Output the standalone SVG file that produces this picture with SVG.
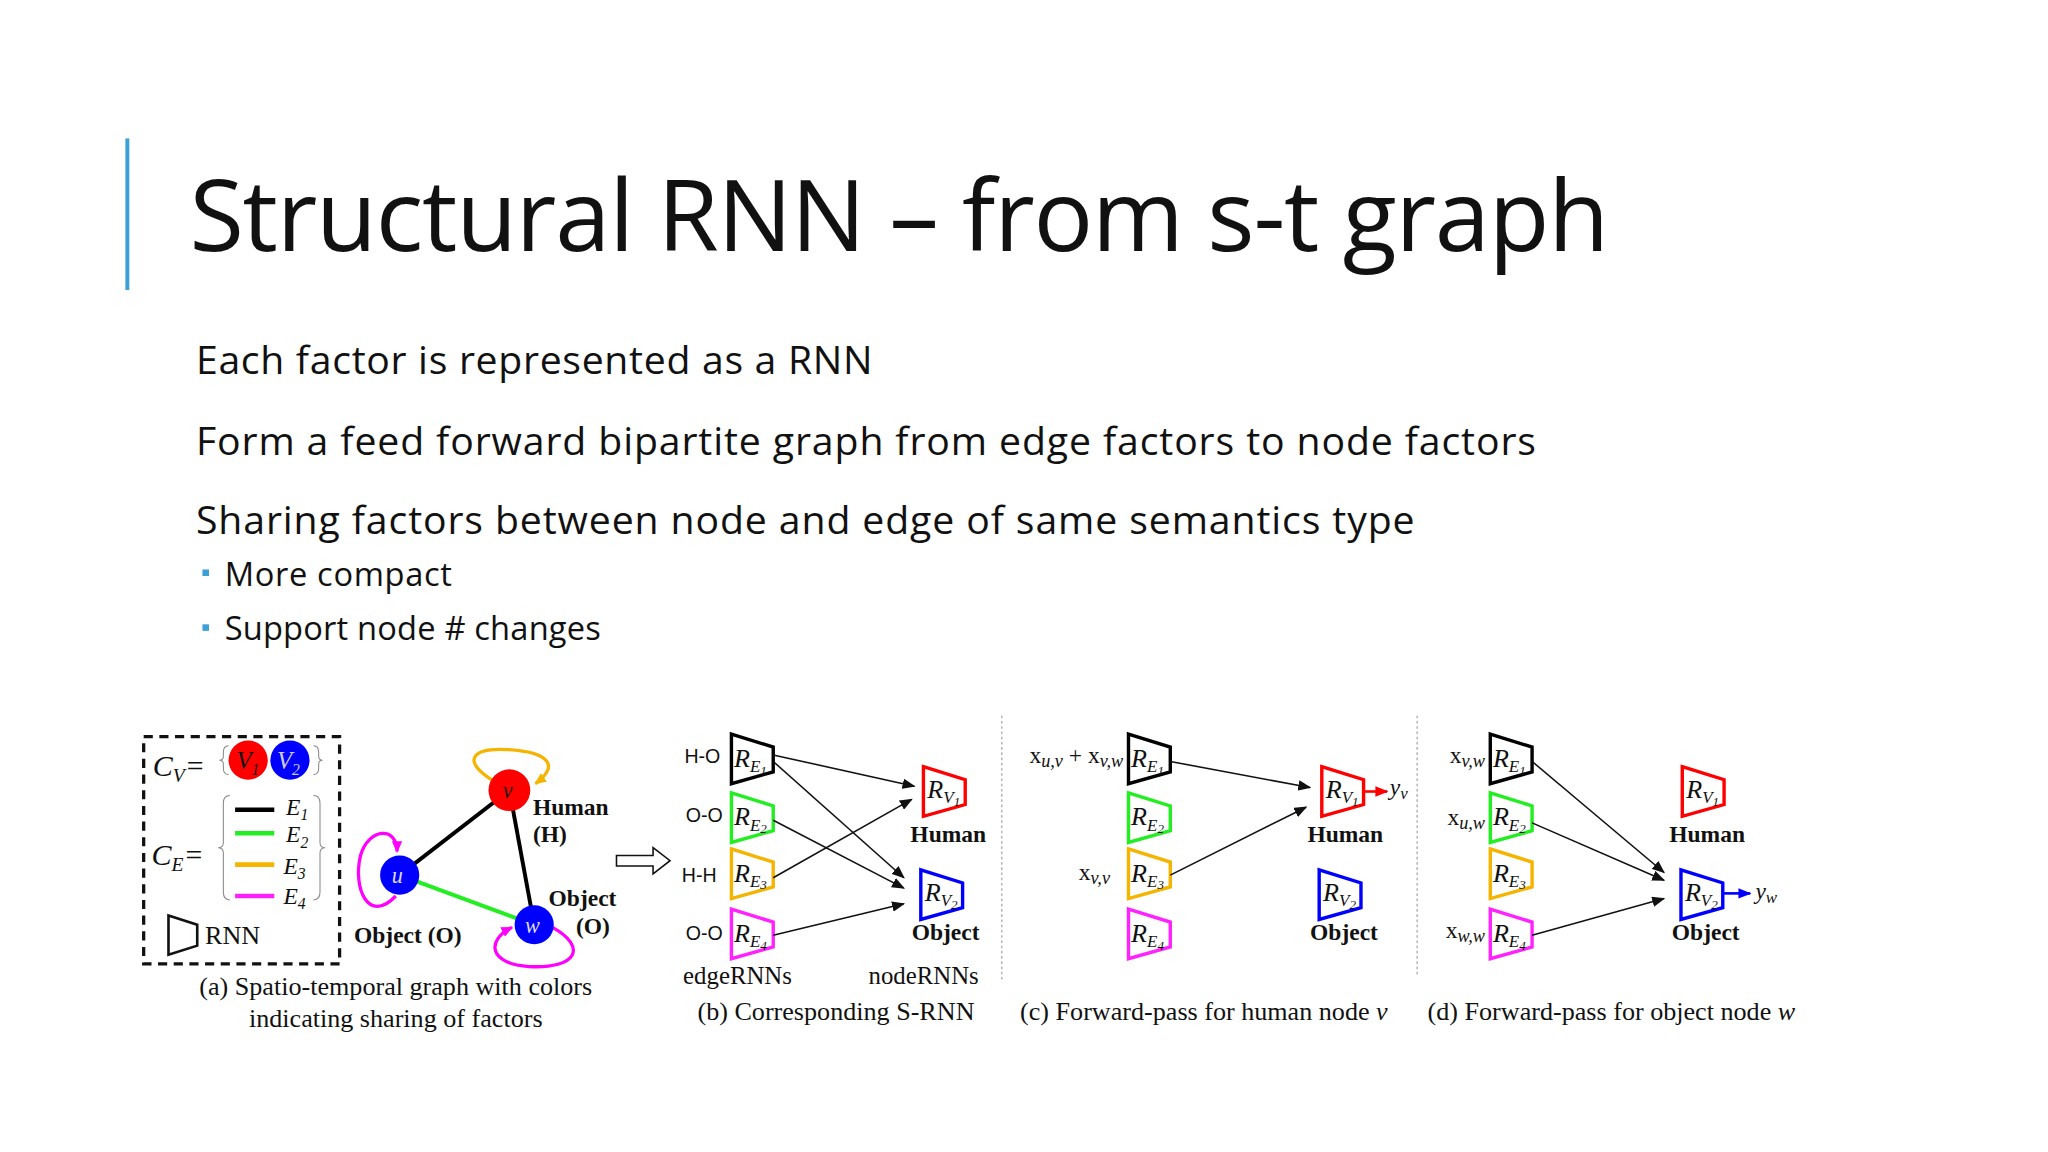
<svg xmlns="http://www.w3.org/2000/svg" xmlns:xlink="http://www.w3.org/1999/xlink" width="2048" height="1152" viewBox="0 0 2048 1152">
<style>
.t{font-family:"Open Sans","Liberation Sans",sans-serif;fill:#111}
.s{font-family:"Liberation Serif",serif;fill:#111}
.i{font-family:"Liberation Serif",serif;font-style:italic;fill:#111}
.b{font-family:"Liberation Serif",serif;font-weight:bold;fill:#111;font-size:18px}
.lab{font-family:"Liberation Sans",sans-serif;font-size:15px;fill:#111}
.r{font-family:"Liberation Serif",serif;font-style:italic;fill:#111;font-size:20px}
.sub{font-size:13px}
.sub2{font-size:10px}
.trap{fill:#fff;stroke-width:2.6}
.ar{stroke:#111;stroke-width:1.2;fill:none;marker-end:url(#ah)}
</style>
<defs>
<marker id="ah" markerWidth="10" markerHeight="8" refX="9" refY="4" orient="auto" markerUnits="userSpaceOnUse"><path d="M0,0 L10,4 L0,8 Z" fill="#111"/></marker>
<marker id="ahr" markerWidth="10" markerHeight="8" refX="9" refY="4" orient="auto" markerUnits="userSpaceOnUse"><path d="M0,0 L10,4 L0,8 Z" fill="#f00"/></marker>
<marker id="ahb" markerWidth="10" markerHeight="8" refX="9" refY="4" orient="auto" markerUnits="userSpaceOnUse"><path d="M0,0 L10,4 L0,8 Z" fill="#00f"/></marker>
<marker id="ahm" markerWidth="9" markerHeight="8" refX="8" refY="4" orient="auto" markerUnits="userSpaceOnUse"><path d="M0,0 L9,4 L0,8 Z" fill="#f0f"/></marker>
<marker id="ahy" markerWidth="9" markerHeight="8" refX="8" refY="4" orient="auto" markerUnits="userSpaceOnUse"><path d="M0,0 L9,4 L0,8 Z" fill="#f5b400"/></marker>
<path id="tr" d="M0,0 L32,10 L32,29 L0,38 Z"/>
</defs>
<rect width="2048" height="1152" fill="#fff"/>
<g transform="scale(1.30612)">
<rect x="96" y="106" width="3" height="116" fill="#3aa0d5"/>
<text class="t" x="145" y="192" font-size="76" textLength="1087">Structural RNN – from s-t graph</text>
<text class="t" x="150" y="286" font-size="30" textLength="518">Each factor is represented as a RNN</text>
<text class="t" x="150" y="348" font-size="30" textLength="1026">Form a feed forward bipartite graph from edge factors to node factors</text>
<text class="t" x="150" y="409" font-size="30" textLength="933">Sharing factors between node and edge of same semantics type</text>
<rect x="155" y="436" width="5" height="5" fill="#3aa0d5"/>
<text class="t" x="172" y="449" font-size="25" textLength="174">More compact</text>
<rect x="155" y="478" width="5" height="5" fill="#3aa0d5"/>
<text class="t" x="172" y="490" font-size="25" textLength="288">Support node # changes</text>

<g id="legend">
<rect x="110" y="564" width="150" height="174" fill="none" stroke="#111" stroke-width="2.5" stroke-dasharray="7,5"/>
<text class="i" x="117" y="594" font-size="23">C<tspan font-size="15" dy="5">V</tspan><tspan dy="-5">=</tspan></text>
<path d="M175,571 q-4,0 -4,5 v3 q0,3 -3,3 q3,0 3,3 v3 q0,5 4,5" fill="none" stroke="#888" stroke-width="0.8"/>
<path d="M240,571 q4,0 4,5 v3 q0,3 3,3 q-3,0 -3,3 v3 q0,5 -4,5" fill="none" stroke="#888" stroke-width="0.8"/>
<circle cx="190" cy="582" r="15" fill="#f00"/><text class="i" x="181" y="589" font-size="19">V<tspan font-size="12" dy="4">1</tspan></text>
<circle cx="222" cy="582" r="15" fill="#00f"/><text class="i" x="212" y="589" font-size="19" style="fill:#ccd">V<tspan font-size="12" dy="4">2</tspan></text>
<text class="i" x="116" y="662" font-size="23">C<tspan font-size="15" dy="5">E</tspan><tspan dy="-5">=</tspan></text>
<path d="M176,609 q-5,0 -5,6 v30 q0,4 -4,4 q4,0 4,4 v30 q0,6 5,6" fill="none" stroke="#888" stroke-width="0.8"/>
<path d="M240,609 q5,0 5,6 v30 q0,4 4,4 q-4,0 -4,4 v30 q0,6 -5,6" fill="none" stroke="#888" stroke-width="0.8"/>
<line x1="180" y1="620" x2="210" y2="620" stroke="#000" stroke-width="3.5"/>
<line x1="180" y1="638" x2="210" y2="638" stroke="#22ee22" stroke-width="3.5"/>
<line x1="180" y1="662" x2="210" y2="662" stroke="#f5b400" stroke-width="3.5"/>
<line x1="180" y1="686" x2="210" y2="686" stroke="#ff22ff" stroke-width="3.5"/>
<text class="i" x="219" y="624" font-size="18">E<tspan font-size="12" dy="4">1</tspan></text>
<text class="i" x="219" y="645" font-size="18">E<tspan font-size="12" dy="4">2</tspan></text>
<text class="i" x="217" y="669" font-size="18">E<tspan font-size="12" dy="4">3</tspan></text>
<text class="i" x="217" y="692" font-size="18">E<tspan font-size="12" dy="4">4</tspan></text>
<path d="M129,701 L151,708 L151,724 L129,731 Z" fill="none" stroke="#111" stroke-width="2"/>
<text class="s" x="157" y="723" font-size="20">RNN</text>
</g>
<g id="stgraph">
<line x1="390" y1="605" x2="306" y2="670" stroke="#000" stroke-width="3"/>
<line x1="390" y1="605" x2="409" y2="708" stroke="#000" stroke-width="3"/>
<line x1="306" y1="670" x2="409" y2="708" stroke="#22ee22" stroke-width="3"/>
<path d="M378,598 C352,582 362,572 390,574 C418,576 430,585 410,600" fill="none" stroke="#f5b400" stroke-width="2.5" marker-end="url(#ahy)"/>
<path d="M303,686 C282,708 270,680 276,655 C282,634 304,632 304,652" fill="none" stroke="#f0f" stroke-width="2.5" marker-end="url(#ahm)"/>
<path d="M423,710 C450,725 442,742 405,740 C374,738 372,720 392,710" fill="none" stroke="#f0f" stroke-width="2.5" marker-end="url(#ahm)"/>
<circle cx="390" cy="605" r="16" fill="#f00"/><text class="i" x="385" y="611" font-size="17">v</text>
<circle cx="306" cy="670" r="15" fill="#00f"/><text class="i" x="300" y="676" font-size="17" style="fill:#dde">u</text>
<circle cx="409" cy="708" r="15" fill="#00f"/><text class="i" x="402" y="714" font-size="17" style="fill:#dde">w</text>
<text class="b" x="408" y="624">Human</text><text class="b" x="408" y="645">(H)</text>
<text class="b" x="420" y="694">Object</text><text class="b" x="441" y="715">(O)</text>
<text class="b" x="271" y="722">Object (O)</text>
<path d="M472,655 h28 v-6 l13,10 l-13,10 v-6 h-28 Z" fill="#fff" stroke="#111" stroke-width="1.2"/>
<text class="s" x="303" y="762" font-size="20" text-anchor="middle">(a) Spatio-temporal graph with colors</text>
<text class="s" x="303" y="786" font-size="20" text-anchor="middle">indicating sharing of factors</text>
</g>

<line x1="767" y1="548" x2="767" y2="752" stroke="#aaa" stroke-dasharray="2,2"/>
<line x1="1085" y1="548" x2="1085" y2="748" stroke="#aaa" stroke-dasharray="2,2"/>

<g id="srnn">
<use xlink:href="#tr" x="560" y="562" class="trap" stroke="#000" stroke-width="3.2"/>
<use xlink:href="#tr" x="560" y="607" class="trap" stroke="#22ee22"/>
<use xlink:href="#tr" x="560" y="650" class="trap" stroke="#f5b400"/>
<use xlink:href="#tr" x="560" y="696" class="trap" stroke="#ff22ff"/>
<use xlink:href="#tr" x="707" y="587" class="trap" stroke="#f00"/>
<use xlink:href="#tr" x="705" y="666" class="trap" stroke="#00f"/>
<text class="r" x="562" y="587">R<tspan class="sub" dy="4">E<tspan class="sub2" dy="2">1</tspan></tspan></text>
<text class="r" x="562" y="632">R<tspan class="sub" dy="4">E<tspan class="sub2" dy="2">2</tspan></tspan></text>
<text class="r" x="562" y="675">R<tspan class="sub" dy="4">E<tspan class="sub2" dy="2">3</tspan></tspan></text>
<text class="r" x="562" y="721">R<tspan class="sub" dy="4">E<tspan class="sub2" dy="2">4</tspan></tspan></text>
<text class="r" x="710" y="611">R<tspan class="sub" dy="4">V<tspan class="sub2" dy="2">1</tspan></tspan></text>
<text class="r" x="708" y="690">R<tspan class="sub" dy="4">V<tspan class="sub2" dy="2">2</tspan></tspan></text>
<text class="lab" x="524" y="584">H-O</text><text class="lab" x="525" y="629">O-O</text>
<text class="lab" x="522" y="675">H-H</text><text class="lab" x="525" y="720">O-O</text>
<text class="b" x="697" y="645">Human</text><text class="b" x="698" y="720">Object</text>
<text class="s" x="523" y="753" font-size="19">edgeRNNs</text>
<text class="s" x="665" y="753" font-size="19">nodeRNNs</text>
<text class="s" x="534" y="781" font-size="20">(b) Corresponding S-RNN</text>
</g>
<g id="conn-b">
<line class="ar" x1="592" y1="578" x2="700" y2="602"/>
<line class="ar" x1="592" y1="583" x2="692" y2="672"/>
<line class="ar" x1="592" y1="628" x2="692" y2="680"/>
<line class="ar" x1="592" y1="672" x2="698" y2="612"/>
<line class="ar" x1="592" y1="716" x2="692" y2="692"/>
</g>

<g id="human-pass">
<use xlink:href="#tr" x="864" y="562" class="trap" stroke="#000" stroke-width="3.2"/>
<use xlink:href="#tr" x="864" y="607" class="trap" stroke="#22ee22"/>
<use xlink:href="#tr" x="864" y="650" class="trap" stroke="#f5b400"/>
<use xlink:href="#tr" x="864" y="696" class="trap" stroke="#ff22ff"/>
<use xlink:href="#tr" x="1012" y="587" class="trap" stroke="#f00"/>
<use xlink:href="#tr" x="1010" y="666" class="trap" stroke="#00f"/>
<text class="r" x="866" y="587">R<tspan class="sub" dy="4">E<tspan class="sub2" dy="2">1</tspan></tspan></text>
<text class="r" x="866" y="632">R<tspan class="sub" dy="4">E<tspan class="sub2" dy="2">2</tspan></tspan></text>
<text class="r" x="866" y="675">R<tspan class="sub" dy="4">E<tspan class="sub2" dy="2">3</tspan></tspan></text>
<text class="r" x="866" y="721">R<tspan class="sub" dy="4">E<tspan class="sub2" dy="2">4</tspan></tspan></text>
<text class="r" x="1015" y="611">R<tspan class="sub" dy="4">V<tspan class="sub2" dy="2">1</tspan></tspan></text>
<text class="r" x="1013" y="690">R<tspan class="sub" dy="4">V<tspan class="sub2" dy="2">2</tspan></tspan></text>
<text class="s" x="860" y="584" font-size="18" text-anchor="end">x<tspan class="i" font-size="14" dy="3">u,v</tspan><tspan dy="-3"> + x</tspan><tspan class="i" font-size="14" dy="3">v,w</tspan></text>
<text class="s" x="826" y="674" font-size="18">x<tspan class="i" font-size="14" dy="3">v,v</tspan></text>
<text class="i" x="1064" y="609" font-size="18">y<tspan font-size="13" dy="3">v</tspan></text>
<text class="b" x="1001" y="645">Human</text><text class="b" x="1003" y="720">Object</text>
<text class="s" x="781" y="781" font-size="20">(c) Forward-pass for human node <tspan class="i">v</tspan></text>
</g>
<g id="conn-c">
<line class="ar" x1="896" y1="583" x2="1003" y2="603"/>
<line class="ar" x1="896" y1="670" x2="1000" y2="618"/>
<line x1="1044" y1="606" x2="1062" y2="606" stroke="#f00" stroke-width="2" marker-end="url(#ahr)"/>
</g>

<g id="object-pass">
<use xlink:href="#tr" x="1141" y="562" class="trap" stroke="#000" stroke-width="3.2"/>
<use xlink:href="#tr" x="1141" y="607" class="trap" stroke="#22ee22"/>
<use xlink:href="#tr" x="1141" y="650" class="trap" stroke="#f5b400"/>
<use xlink:href="#tr" x="1141" y="696" class="trap" stroke="#ff22ff"/>
<use xlink:href="#tr" x="1288" y="587" class="trap" stroke="#f00"/>
<use xlink:href="#tr" x="1287" y="666" class="trap" stroke="#00f"/>
<text class="r" x="1143" y="587">R<tspan class="sub" dy="4">E<tspan class="sub2" dy="2">1</tspan></tspan></text>
<text class="r" x="1143" y="632">R<tspan class="sub" dy="4">E<tspan class="sub2" dy="2">2</tspan></tspan></text>
<text class="r" x="1143" y="675">R<tspan class="sub" dy="4">E<tspan class="sub2" dy="2">3</tspan></tspan></text>
<text class="r" x="1143" y="721">R<tspan class="sub" dy="4">E<tspan class="sub2" dy="2">4</tspan></tspan></text>
<text class="r" x="1291" y="611">R<tspan class="sub" dy="4">V<tspan class="sub2" dy="2">1</tspan></tspan></text>
<text class="r" x="1290" y="690">R<tspan class="sub" dy="4">V<tspan class="sub2" dy="2">2</tspan></tspan></text>
<text class="s" x="1137" y="584" font-size="18" text-anchor="end">x<tspan class="i" font-size="14" dy="3">v,w</tspan></text>
<text class="s" x="1137" y="632" font-size="18" text-anchor="end">x<tspan class="i" font-size="14" dy="3">u,w</tspan></text>
<text class="s" x="1137" y="718" font-size="18" text-anchor="end">x<tspan class="i" font-size="14" dy="3">w,w</tspan></text>
<text class="i" x="1344" y="688" font-size="18">y<tspan font-size="13" dy="3">w</tspan></text>
<text class="b" x="1278" y="645">Human</text><text class="b" x="1280" y="720">Object</text>
<text class="s" x="1093" y="781" font-size="20">(d) Forward-pass for object node <tspan class="i">w</tspan></text>
</g>
<g id="conn-d">
<line class="ar" x1="1173" y1="583" x2="1274" y2="668"/>
<line class="ar" x1="1173" y1="630" x2="1274" y2="674"/>
<line class="ar" x1="1173" y1="716" x2="1274" y2="688"/>
<line x1="1319" y1="684" x2="1340" y2="684" stroke="#00f" stroke-width="2" marker-end="url(#ahb)"/>
</g>
</g>
</svg>
